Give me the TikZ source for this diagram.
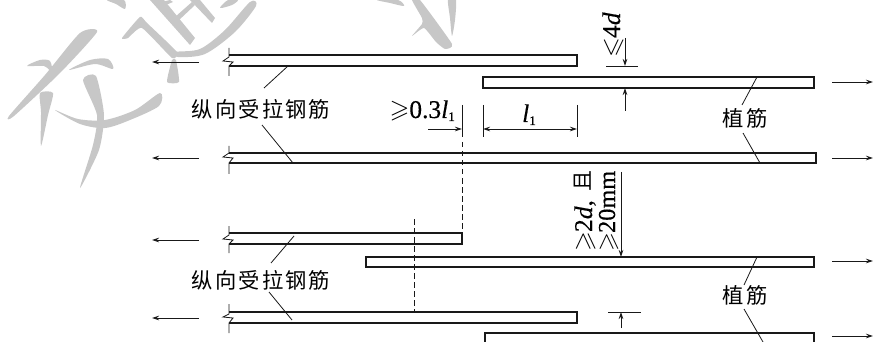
\documentclass[tikz,border=0pt]{standalone}
\usepackage{amssymb}
\usepackage{fontspec}
\setmainfont{Liberation Serif}[FakeBold=0.35,ItalicFeatures={FakeBold=0.35}]
\newfontfamily\cjk[LetterSpace=10]{Noto Sans CJK SC}
\newfontfamily\cjkplain{Noto Sans CJK SC}
\usetikzlibrary{arrows.meta}
\tikzset{
  bar/.style={line width=1.7pt,line join=miter,black!90},
  thin line/.style={line width=0.8pt,black!90},
  dimarrow/.style={thin line,-{Stealth[length=7pt,width=4.5pt]}},
  bothdim/.style={thin line,{Stealth[length=7pt,width=4.5pt]}-{Stealth[length=7pt,width=4.5pt]}},
  guide/.style={line width=0.8pt,black!90,dash pattern=on 5.5pt off 3.5pt},
  wm/.style={fill=black!22,draw=none},
  cnlabel/.style={inner sep=0pt,font=\fontsize{21.3}{21.3}\selectfont\cjk},
  dimlabel/.style={inner sep=0pt,font=\fontsize{25.5}{25.5}\selectfont},
}
\newcommand{\geslant}{\ensuremath{\geqslant}}
\newcommand{\leslant}{\ensuremath{\leqslant}}
\begin{document}
\begin{tikzpicture}[x=1pt,y=-1pt]
\useasboundingbox (0,0) rectangle (873,342);
% watermark strokes
\fill[wm] plot[smooth cycle,tension=0.4] coordinates {(9,116) (45,75) (80,33) (97,32) (60,73) (14,116)};
\fill[wm] plot[smooth cycle,tension=0.5] coordinates {(27,66) (40,60) (50,61) (52,72) (44,66)};
\fill[wm] plot[smooth cycle,tension=0.5] coordinates {(69,70) (90,60) (108,59) (113,69) (95,64)};
\fill[wm] plot[smooth cycle,tension=0.4] coordinates {(40,93) (53,93) (48,115) (41,146) (41,112)};
\fill[wm] plot[smooth cycle,tension=0.5] coordinates {(55,110) (78,119) (105,120) (135,110) (160,93) (159,106) (130,120) (105,128) (80,124)};
\fill[wm] plot[smooth cycle,tension=0.4] coordinates {(83,80) (96,76) (104,115) (99,150) (80,188) (93,145) (97,115)};
\fill[wm] plot[smooth cycle,tension=0.3] coordinates {(122,38) (140,17) (147,23) (177,52) (172,58) (142,28) (128,38)};
\fill[wm] plot[smooth cycle,tension=0.5] coordinates {(175,52) (200,49) (225,30) (250,2) (256,6) (235,32) (205,54) (178,57)};
\fill[wm] plot[smooth cycle,tension=0.3] coordinates {(172,60) (176,60) (179,82) (167,82)};
\fill[wm] (150,0) -- (164,0) -- (195,38) -- (190,45) -- cycle;
\fill[wm] (190,0) -- (200,0) -- (215,18) -- (212,23) -- cycle;
\fill[wm] (175,17) -- (192,2) -- (195,5) -- (178,21) -- cycle;
\fill[wm] (158,3) -- (170,0) -- (173,2) -- (161,7) -- cycle;
\fill[wm] plot[smooth cycle,tension=0.5] coordinates {(220,8) (228,0) (238,0) (232,5)};
\fill[wm] plot[smooth cycle,tension=0.5] coordinates {(107,0) (124,0) (125,9) (116,4)};
\fill[wm] plot[smooth cycle,tension=0.5] coordinates {(377,0) (398,0) (404,6) (390,3)};
\fill[wm] plot[smooth cycle,tension=0.3] coordinates {(412,0) (420,0) (452,44) (445,49) (436,42) (424,28) (412,36) (422,24) (422,18)};
\fill[wm] plot[smooth cycle,tension=0.4] coordinates {(448,0) (456,0) (455,20) (452,36) (450,18)};
% bars, left end open behind a break line
\draw[bar] (229,55) -- (577,55) -- (577,66) -- (229,66);
\draw[bar] (483,77) rectangle (814,88);
\draw[bar] (229,153) -- (816,153) -- (816,163) -- (229,163);
\draw[bar] (229,233) -- (462,233) -- (462,244) -- (229,244);
\draw[bar] (366,257) rectangle (814,267);
\draw[bar] (229,312) -- (577,312) -- (577,323) -- (229,323);
\draw[bar] (485,342) -- (485,333) -- (814,333) -- (814,342);
% break lines
\draw[thin line] (229,48) -- (229,57) -- (223,61) -- (233,62) -- (229,66) -- (229,76);
\draw[thin line] (229,146) -- (229,153) -- (223,157) -- (233,158) -- (229,163) -- (229,174);
\draw[thin line] (229,226) -- (229,235) -- (223,239) -- (233,240) -- (229,244) -- (229,253);
\draw[thin line] (229,304) -- (229,314) -- (223,317) -- (233,318) -- (229,323) -- (229,333);
% force arrows
\foreach \y/\n in {62/a,158/b,240/c,318/d}{
  \coordinate (ls\n) at (199,\y); \coordinate (le\n) at (152,\y);
  \draw[dimarrow] (ls\n) -- (le\n);}
\foreach \y/\n in {82/a,158/b,261/c,336/d}{
  \coordinate (rs\n) at (832,\y); \coordinate (re\n) at (873,\y);
  \draw[dimarrow] (rs\n) -- (re\n);}
% labels
\node[cnlabel] (la1) at (261,109) {纵向受拉钢筋};
\node[cnlabel] (la2) at (261,280) {纵向受拉钢筋};
\node[cnlabel] (zj1) at (745,118) {植筋};
\node[cnlabel] (zj2) at (745,295) {植筋};
% leaders
\coordinate (p1) at (288,66); \coordinate (p1e) at (264,88);
\coordinate (p2) at (293,163); \coordinate (p2e) at (262,125);
\coordinate (p3) at (294,236); \coordinate (p3e) at (271,263);
\coordinate (p4) at (292,320); \coordinate (p4e) at (269,292);
\coordinate (q1) at (757,77); \coordinate (q1e) at (742,105);
\coordinate (q2) at (760,163); \coordinate (q2e) at (743,133);
\coordinate (q3) at (757,257); \coordinate (q3e) at (744,285);
\coordinate (q4) at (763,342); \coordinate (q4e) at (744,309);
\foreach \a/\b in {p1/p1e,p2/p2e,p3/p3e,p4/p4e,q1/q1e,q2/q2e,q3/q3e,q4/q4e}
  \draw[thin line] (\a) -- (\b);
% dimension l1
\coordinate (t1t) at (483,105); \coordinate (t1b) at (483,137);
\coordinate (t2t) at (577,105); \coordinate (t2b) at (577,137);
\draw[thin line] (t1t) -- (t1b);
\draw[thin line] (t2t) -- (t2b);
\coordinate (d1) at (483,129); \coordinate (d2) at (577,129);
\draw[bothdim] (d1) -- (d2);
\node[dimlabel,anchor=base] (l1) at (529,122) {\textit{l}\raisebox{-3pt}{\fontsize{13}{13}\selectfont 1}};
% dimension 0.3 l1
\coordinate (t3t) at (462,105); \coordinate (t3b) at (462,137);
\draw[thin line] (t3t) -- (t3b);
\coordinate (d3) at (428,129); \coordinate (d4) at (462,129);
\draw[dimarrow] (d3) -- (d4);
\node[dimlabel,anchor=base east] (l03) at (455,118) {\geslant0.3\textit{l}\raisebox{-3pt}{\fontsize{13}{13}\selectfont 1}};
% dashed guides
\coordinate (g1) at (462,142); \coordinate (g1e) at (462,233);
\draw[guide] (g1) -- (g1e);
\coordinate (g2) at (414,219); \coordinate (g2e) at (414,312);
\draw[guide] (g2) -- (g2e);
% <=4d
\coordinate (h1) at (606,66); \coordinate (h2) at (638,66);
\draw[thin line] (h1) -- (h2);
\coordinate (u1) at (625,38); \coordinate (u2) at (625,66);
\draw[dimarrow] (u1) -- (u2);
\coordinate (u3) at (625,111); \coordinate (u4) at (625,88);
\draw[dimarrow] (u3) -- (u4);
\node[dimlabel,rotate=90,anchor=base west] (le4d) at (620,58) {\leslant4\textit{d}};
% >=2d, >=20mm
\coordinate (v1) at (621,172); \coordinate (v2) at (621,257);
\draw[dimarrow] (v1) -- (v2);
\node[dimlabel,rotate=90,anchor=base west] (ge2d) at (592,252) {\geslant2\textit{d},};
\node[inner sep=0pt,rotate=90,font=\fontsize{21}{21}\selectfont\cjkplain] (qie) at (583,181) {且};
\node[inner sep=0pt,rotate=90,anchor=base west,font=\fontsize{24.3}{24.3}\selectfont] (ge20) at (615,252) {\geslant20mm};
% lower gap
\coordinate (h3) at (608,312); \coordinate (h4) at (641,312);
\draw[thin line] (h3) -- (h4);
\coordinate (v3) at (621,328); \coordinate (v4) at (621,312);
\draw[dimarrow] (v3) -- (v4);
\end{tikzpicture}
\end{document}
